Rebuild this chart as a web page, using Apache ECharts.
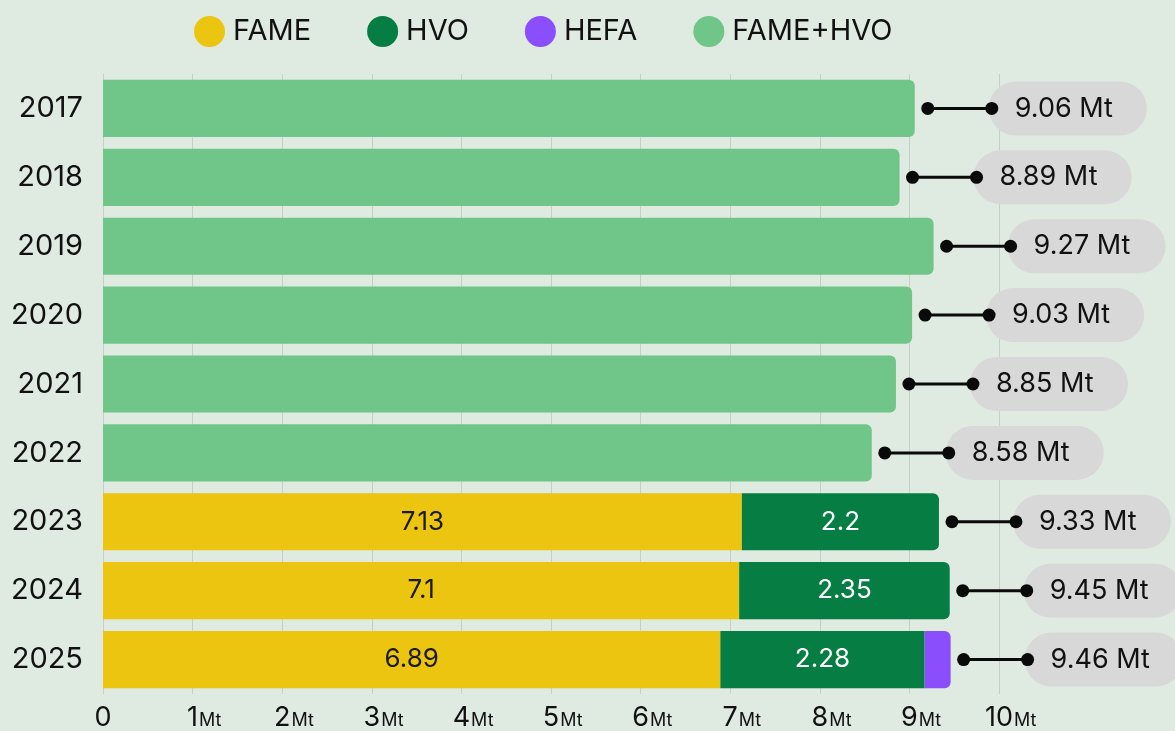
<!DOCTYPE html>
<html>
<head>
<meta charset="utf-8">
<script src="https://cdn.jsdelivr.net/npm/echarts@6/dist/echarts.min.js"></script>
<style>
  html, body { margin: 0; padding: 0; background: #dfeae1; }
  #main { width: 1175px; height: 731px; }
</style>
</head>
<body>
<div id="main"></div>
<script>
// data
var years = ['2017', '2018', '2019', '2020', '2021', '2022', '2023', '2024', '2025'];
var fame  = [null, null, null, null, null, null, 7.13, 7.1, 6.89];
var hvo   = [null, null, null, null, null, null, 2.2, 2.35, 2.28];
var hefa  = [null, null, null, null, null, null, null, null, 0.29];
var blend = [9.06, 8.89, 9.27, 9.03, 8.85, 8.58, null, null, null];
var totals = [9.06, 8.89, 9.27, 9.03, 8.85, 8.58, 9.33, 9.45, 9.46];

var FONT = 'Inter';
var stackOrder = [fame, hvo, hefa, blend];

// round the right end of whichever segment closes the bar
function withEnds(arr) {
    var idx = stackOrder.indexOf(arr);
    return arr.map(function (v, i) {
        if (v == null) return v;
        var last = true;
        for (var k = idx + 1; k < stackOrder.length; k++) {
            if (stackOrder[k][i] != null) last = false;
        }
        return last ? { value: v, itemStyle: { borderRadius: [0, 6, 6, 0] } } : v;
    });
}

var chart = echarts.init(document.getElementById('main'));

chart.setOption({
    backgroundColor: '#dfeae1',
    textStyle: { fontFamily: FONT },
    animation: false,
    legend: {
        data: ['FAME', 'HVO', 'HEFA', 'FAME+HVO'],
        left: 189,
        top: 11,
        icon: 'circle',
        itemWidth: 31,
        itemHeight: 31,
        itemGap: 56,
        textStyle: { fontSize: 29, color: '#111', fontFamily: FONT, padding: [0, 0, 0, 3] }
    },
    grid: { left: 103, right: 176, top: 74, bottom: 37 },
    xAxis: {
        type: 'value',
        min: 0,
        max: 10,
        interval: 1,
        axisLine: { show: false },
        axisTick: { show: false },
        splitLine: { show: true, lineStyle: { color: '#c6cec8', width: 1 } },
        axisLabel: {
            margin: 10,
            formatter: function (v) {
                if (v === 0) return '{n|0}';
                return '{h|Mt}{n|' + v + '}{u|Mt}';
            },
            rich: {
                n: { fontSize: 27, color: '#111', fontFamily: FONT },
                u: { fontSize: 18, color: '#111', fontFamily: FONT, padding: [6, 0, 0, 1] },
                h: { fontSize: 18, color: 'rgba(0,0,0,0)', fontFamily: FONT, padding: [6, 1, 0, 0] }
            }
        }
    },
    yAxis: {
        type: 'category',
        data: years,
        inverse: true,
        axisLine: { show: true, lineStyle: { color: '#c6cec8' } },
        axisTick: { show: false },
        axisLabel: { fontSize: 29, color: '#111', margin: 20, fontFamily: FONT }
    },
    series: [
        {
            name: 'FAME', type: 'bar', stack: 'all', barCategoryGap: '17%',
            itemStyle: { color: '#ecc510' },
            label: { show: true, position: 'inside', color: '#1a1a1a', fontSize: 26, fontFamily: FONT },
            data: withEnds(fame)
        },
        {
            name: 'HVO', type: 'bar', stack: 'all',
            itemStyle: { color: '#067d43' },
            label: { show: true, position: 'inside', color: '#fff', fontSize: 26, fontFamily: FONT },
            data: withEnds(hvo)
        },
        {
            name: 'HEFA', type: 'bar', stack: 'all',
            itemStyle: { color: '#8a4efc' },
            data: withEnds(hefa)
        },
        {
            name: 'FAME+HVO', type: 'bar', stack: 'all',
            itemStyle: { color: '#70c689' },
            data: withEnds(blend)
        },
        {
            // dot-line-dot connector and the grey total pill
            type: 'custom',
            clip: false,
            silent: true,
            encode: { x: 0, y: 1 },
            data: totals.map(function (t, i) { return [t, i]; }),
            renderItem: function (params, api) {
                var p = api.coord([api.value(0), api.value(1)]);
                var x = p[0], y = p[1];
                var d1 = x + 13, d2 = x + 77;
                var bx = x + 74, bw = 158, bh = 54;
                return {
                    type: 'group',
                    children: [
                        {
                            type: 'rect',
                            shape: { x: bx, y: y - bh / 2, width: bw, height: bh, r: 27 },
                            style: { fill: '#d8d8d9' }
                        },
                        {
                            type: 'line',
                            shape: { x1: d1, y1: y, x2: d2, y2: y },
                            style: { stroke: '#0a0a0a', lineWidth: 3 }
                        },
                        { type: 'circle', shape: { cx: d1, cy: y, r: 6.5 }, style: { fill: '#0a0a0a' } },
                        { type: 'circle', shape: { cx: d2, cy: y, r: 6.5 }, style: { fill: '#0a0a0a' } },
                        {
                            type: 'text',
                            style: {
                                x: bx + 26, y: y,
                                text: totals[params.dataIndex].toFixed(2) + ' Mt',
                                fill: '#111', fontSize: 27, fontFamily: FONT,
                                verticalAlign: 'middle', align: 'left'
                            }
                        }
                    ]
                };
            }
        }
    ]
});
</script>
</body>
</html>
